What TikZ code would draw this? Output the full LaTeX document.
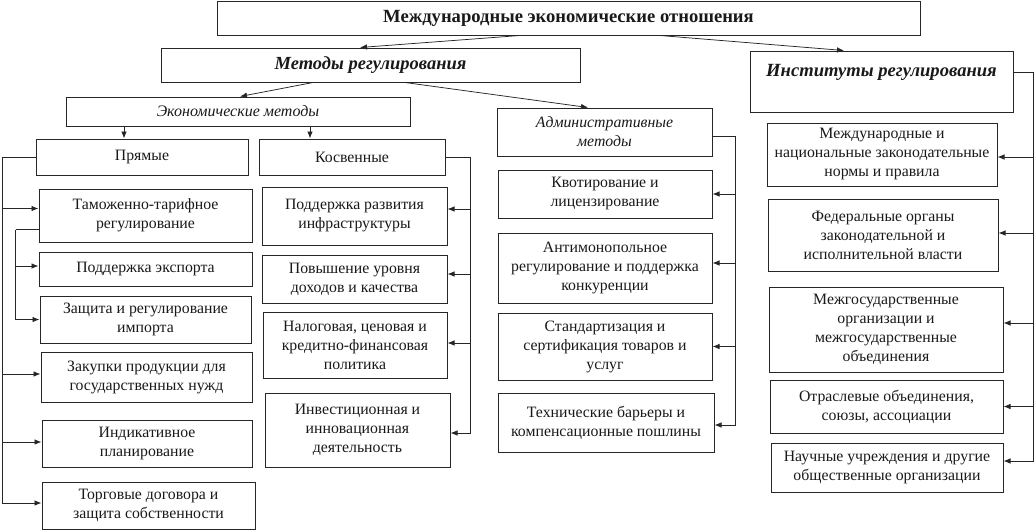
\documentclass[tikz,border=0pt]{standalone}
\usepackage{fontspec}
\setmainfont{Liberation Serif}
\usetikzlibrary{arrows.meta}
\tikzset{
	box/.style={draw=black!85, line width=1pt, align=center, inner sep=0pt, text=black!90,
		font=\fontsize{15.8}{19}\selectfont},
	bus/.style={draw=black!85, line width=0.75pt},
	arr/.style={bus, ->, >={Latex[length=7pt,width=5.5pt]}},
}
\begin{document}
\begin{tikzpicture}[x=1pt, y=-1pt]
	\useasboundingbox (0,0) rectangle (1036,531);
	% top levels
	\node[box, minimum width=703pt, minimum height=34pt, font=\fontsize{18.6}{21}\selectfont\bfseries] (mer) at (568.5,18) {Международные экономические отношения};
	\node[box, minimum width=419pt, minimum height=34pt, font=\fontsize{18.5}{21}\selectfont\bfseries\itshape] (mr) at (370.5,65) {Методы регулирования};
	\node[box, minimum width=263pt, text height=25pt, text depth=36pt, font=\fontsize{18.6}{21}\selectfont\bfseries\itshape] (ir) at (881.5,81.5) {Институты регулирования};
	\node[box, minimum width=344pt, minimum height=29pt, font=\fontsize{16}{19}\selectfont\itshape] (em) at (238,111.5) {Экономические методы};
	\node[box, minimum width=215pt, minimum height=48pt, font=\fontsize{15.8}{19}\selectfont\itshape] (am) at (604.5,132) {Административные\\методы};
	\node[box, minimum width=212pt, minimum height=36pt] (pr) at (142,157) {Прямые};
	\node[box, minimum width=186pt, minimum height=36pt] (ks) at (352,157) {Косвенные};
	% direct methods
	\node[box, minimum width=213pt, minimum height=53pt] (tt) at (145.5,215.5) {Таможенно-тарифное\\регулирование};
	\node[box, minimum width=213pt, minimum height=34pt] (pe) at (145.5,269) {Поддержка экспорта};
	\node[box, minimum width=211pt, minimum height=47pt] (zi) at (145.5,319.5) {Защита и регулирование\\импорта};
	\node[box, minimum width=211pt, minimum height=50pt] (zp) at (146.5,377) {Закупки продукции для\\государственных нужд};
	\node[box, minimum width=210pt, minimum height=47pt] (ip) at (147,443.5) {Индикативное\\планирование};
	\node[box, minimum width=213pt, minimum height=47pt] (td) at (148.5,505.5) {Торговые договора и\\защита собственности};
	% indirect methods
	\node[box, minimum width=185pt, minimum height=58pt] (pi) at (354.5,216) {Поддержка развития\\инфраструктуры};
	\node[box, minimum width=185pt, minimum height=48pt] (pu) at (354.5,279) {Повышение уровня\\доходов и качества};
	\node[box, minimum width=184pt, minimum height=66pt] (nc) at (355,345) {Налоговая, ценовая и\\кредитно-финансовая\\политика};
	\node[box, minimum width=185pt, minimum height=74pt] (ii) at (357.5,430) {Инвестиционная и\\инновационная\\деятельность};
	% administrative methods
	\node[box, minimum width=214pt, minimum height=48pt] (kl) at (605,194) {Квотирование и\\лицензирование};
	\node[box, minimum width=214pt, minimum height=70pt] (ar) at (605,268) {Антимонопольное\\регулирование и поддержка\\конкуренции};
	\node[box, minimum width=214pt, minimum height=67pt] (ss) at (605,346.5) {Стандартизация и\\сертификация товаров и\\услуг};
	\node[box, minimum width=216pt, minimum height=59pt] (tb) at (606,422.5) {Технические барьеры и\\компенсационные пошлины};
	% institutions
	\node[box, minimum width=230pt, minimum height=63pt] (mn) at (882,154.5) {Международные и\\национальные законодательные\\нормы и правила};
	\node[box, minimum width=230pt, minimum height=72pt] (fo) at (883,235) {Федеральные органы\\законодательной и\\исполнительной власти};
	\node[box, minimum width=234pt, minimum height=85pt] (mg) at (886,329.5) {Межгосударственные\\организации и\\межгосударственные\\объединения};
	\node[box, minimum width=233pt, minimum height=53pt] (os) at (886.5,406.5) {Отраслевые объединения,\\союзы, ассоциации};
	\node[box, minimum width=232pt, minimum height=49pt] (nu) at (887,467.5) {Научные учреждения и другие\\общественные организации};

	% arrows between levels
	\draw[arr] ([xshift=-48.5pt]mer.south) -- ([xshift=-10.5pt]mr.north);
	\draw[arr] ([xshift=91.5pt]mer.south) -- ([xshift=-37.5pt]ir.north);
	\draw[arr] ([xshift=-57.5pt]mr.south) -- ([xshift=2pt]em.north);
	\draw[arr] ([xshift=34.5pt]mr.south) -- ([xshift=-16.5pt]am.north);
	\draw[arr] ([xshift=-18pt]pr.north |- em.south) -- ([xshift=-18pt]pr.north);
	\draw[arr] ([xshift=-42pt]ks.north |- em.south) -- ([xshift=-42pt]ks.north);

	% buses
	\draw[bus] (pr.west) -- ++(-33pt,0) coordinate (lbus);
	\foreach \n/\s in {tt/7,zp/3,ip/1.5,td/2.5}
		\draw[arr] (lbus) |- ([yshift=\s pt]\n.west);
	\draw[bus] ([yshift=-14pt]tt.west) -- ++(-23pt,0) coordinate (tbus);
	\foreach \n/\s in {pe/3,zi/0}
		\draw[arr] (tbus) |- ([yshift=\s pt]\n.west);
	\draw[bus] (ks.east) -- ++(25pt,0) coordinate (kbus);
	\foreach \n/\s in {pi/7,pu/5,nc/2,ii/-3}
		\draw[arr] (kbus) |- ([yshift=\s pt]\n.east);
	\draw[bus] ([yshift=-4pt]am.east) -- ++(23pt,0) coordinate (abus);
	\foreach \n/\s in {kl/0,ar/5,ss/0,tb/-2.5}
		\draw[arr] (abus) |- ([yshift=\s pt]\n.east);
	\draw[bus] ([yshift=9.5pt]ir.east) -- ++(20pt,0) coordinate (ibus);
	\foreach \n/\s in {mn/-2.5,fo/2,mg/6.5,os/0,nu/6.5}
		\draw[arr] (ibus) |- ([yshift=\s pt]\n.east);
\end{tikzpicture}
\end{document}
